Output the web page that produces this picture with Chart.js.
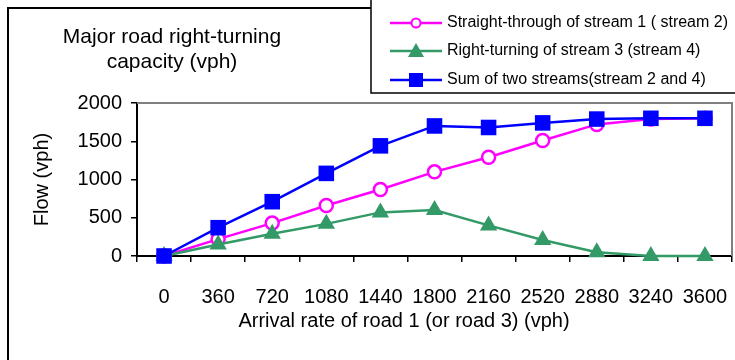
<!DOCTYPE html>
<html>
<head>
<meta charset="utf-8">
<script src="https://cdn.jsdelivr.net/npm/chart.js@4.4.1/dist/chart.umd.min.js"></script>
<style>
  html, body { margin: 0; padding: 0; background: #fff; }
</style>
</head>
<body>
<canvas id="capacityChart" width="735" height="360"></canvas>
<script>
// data
const arrivalRates = ['0', '360', '720', '1080', '1440', '1800', '2160', '2520', '2880', '3240', '3600'];
const straightThrough = [0, 220, 430, 660, 870, 1100, 1290, 1510, 1720, 1790, 1800];
const rightTurning = [0, 150, 290, 420, 570, 600, 400, 210, 50, 0, 0];
const sumOfStreams = [0, 370, 710, 1080, 1440, 1700, 1680, 1740, 1790, 1800, 1800];
const flowTicks = [0, 500, 1000, 1500, 2000];

const FONT = "'Liberation Sans', Arial, sans-serif";

// frame, title, x title and boxed legend
const decor = {
    id: 'decor',
    beforeDraw(chart) {
        const ctx = chart.ctx;
        ctx.save();
        ctx.fillStyle = '#fff';
        ctx.fillRect(0, 0, chart.width, chart.height);
        ctx.strokeStyle = '#000';
        ctx.lineWidth = 2;
        ctx.strokeRect(8, 8, chart.width + 10, chart.height + 10);
        ctx.restore();
    },
    beforeDatasetsDraw(chart) {
        const ctx = chart.ctx;
        const a = chart.chartArea;
        ctx.save();
        ctx.strokeStyle = '#808080';
        ctx.lineWidth = 2;
        ctx.beginPath();
        ctx.moveTo(a.left, a.top);
        ctx.lineTo(a.right, a.top);
        ctx.lineTo(a.right, a.bottom);
        ctx.stroke();
        ctx.restore();
    },
    afterDraw(chart) {
        const ctx = chart.ctx;
        ctx.save();
        ctx.fillStyle = '#000';
        ctx.textAlign = 'center';
        ctx.textBaseline = 'middle';
        ctx.font = '21px ' + FONT;
        ctx.fillText('Major road right-turning', 172, 37);
        ctx.fillText('capacity (vph)', 172, 62);

        ctx.font = '20px ' + FONT;
        ctx.fillText('Arrival rate of road 1 (or road 3) (vph)', 404, 321);

        // legend box
        ctx.fillStyle = '#fff';
        ctx.fillRect(371, -2, 400, 95);
        ctx.strokeStyle = '#000';
        ctx.lineWidth = 1.5;
        ctx.strokeRect(371, -2, 400, 95);

        const rows = [23, 51, 80];
        ctx.font = '16px ' + FONT;
        ctx.textAlign = 'left';
        chart.data.datasets.forEach((ds, i) => {
            const y = rows[i];
            ctx.strokeStyle = ds.borderColor;
            ctx.lineWidth = 2.5;
            ctx.beginPath();
            ctx.moveTo(390, y);
            ctx.lineTo(442, y);
            ctx.stroke();
            ctx.fillStyle = ds.pointBackgroundColor;
            ctx.lineWidth = 2;
            ctx.beginPath();
            if (ds.pointStyle === 'circle') {
                ctx.arc(416, y, 4.5, 0, Math.PI * 2);
                ctx.fill();
                ctx.stroke();
            } else if (ds.pointStyle === 'triangle') {
                ctx.moveTo(416, y - 8);
                ctx.lineTo(424, y + 6);
                ctx.lineTo(408, y + 6);
                ctx.closePath();
                ctx.fill();
            } else {
                ctx.fillRect(409, y - 7, 14, 14);
            }
            ctx.fillStyle = '#000';
            ctx.fillText(ds.label, 447, y);
        });
        ctx.restore();
    }
};

const ctx = document.getElementById('capacityChart').getContext('2d');

const capacityChart = new Chart(ctx, {
    type: 'line',
    data: {
        labels: arrivalRates,
        datasets: [{
            label: 'Straight-through of stream 1 ( stream 2)',
            data: straightThrough,
            order: 2,
            borderColor: '#ff00ff',
            borderWidth: 2.5,
            pointStyle: 'circle',
            pointRadius: 6.5,
            pointBorderWidth: 2.5,
            pointBackgroundColor: '#ffffff',
            pointBorderColor: '#ff00ff',
        }, {
            label: 'Right-turning of stream 3 (stream 4)',
            data: rightTurning,
            order: 1,
            borderColor: '#339966',
            borderWidth: 2.5,
            pointStyle: 'triangle',
            pointRadius: 10,
            pointBorderWidth: 0,
            pointBackgroundColor: '#339966',
            pointBorderColor: '#339966',
        }, {
            label: 'Sum of two streams(stream 2 and 4)',
            data: sumOfStreams,
            order: 0,
            borderColor: '#0000ff',
            borderWidth: 2.5,
            pointStyle: 'rect',
            pointRadius: 11,
            pointBorderWidth: 0,
            pointBackgroundColor: '#0000ff',
            pointBorderColor: '#0000ff',
        }]
    },
    options: {
        responsive: false,
        animation: false,
        devicePixelRatio: 1,
        layout: {
            autoPadding: false,
            padding: { top: 103, right: 3, left: 0, bottom: 0 }
        },
        elements: {
            line: { tension: 0 }
        },
        datasets: {
            line: { clip: false }
        },
        plugins: {
            legend: { display: false },
            title: { display: false },
            tooltip: { enabled: false }
        },
        scales: {
            x: {
                offset: true,
                grid: {
                    offset: true,
                    drawOnChartArea: false,
                    tickLength: 6,
                    color: '#000',
                    lineWidth: 1.5
                },
                border: { color: '#000', width: 2 },
                ticks: {
                    color: '#000',
                    padding: 23,
                    maxRotation: 0,
                    autoSkip: false,
                    font: { size: 20, family: FONT }
                },
                afterFit(scale) {
                    scale.height = 104;
                    scale.paddingLeft = 0;
                    scale.paddingRight = 0;
                }
            },
            y: {
                min: 0,
                max: 2000,
                afterBuildTicks(scale) {
                    scale.ticks = flowTicks.map(v => ({ value: v }));
                },
                grid: {
                    drawOnChartArea: false,
                    tickLength: 6,
                    color: '#000',
                    lineWidth: 1.5
                },
                border: { color: '#000', width: 2 },
                ticks: {
                    color: '#000',
                    padding: 9,
                    font: { size: 20, family: FONT },
                    callback: v => String(v)
                },
                title: {
                    display: true,
                    text: 'Flow (vph)',
                    color: '#000',
                    font: { size: 20, family: FONT },
                    padding: { top: 30, bottom: 0 }
                },
                afterFit(scale) {
                    scale.width = 137;
                    scale.paddingTop = 0;
                    scale.paddingBottom = 0;
                }
            }
        }
    },
    plugins: [decor]
});
</script>
</body>
</html>
